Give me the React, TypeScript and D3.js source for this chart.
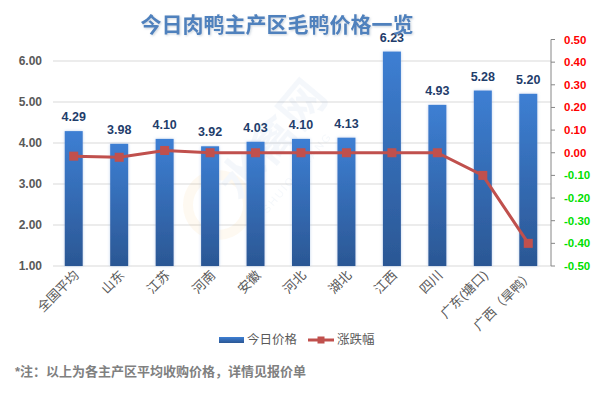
import React from "react";
import * as d3 from "d3";

const categories = ["全国平均", "山东", "江苏", "河南", "安徽", "河北", "湖北", "江西", "四川", "广东(塘口)", "广西（旱鸭）"];
const prices = [4.29, 3.98, 4.1, 3.92, 4.03, 4.1, 4.13, 6.23, 4.93, 5.28, 5.2];
const changes = [-0.015, -0.02, 0.01, 0, 0, 0, 0, 0, 0, -0.1, -0.4];
const leftTicks = [1, 2, 3, 4, 5, 6];
const rightTicks = [0.5, 0.4, 0.3, 0.2, 0.1, 0, -0.1, -0.2, -0.3, -0.4, -0.5];

const W = 592;
const H = 393;
const FONT = "'Liberation Sans', 'Noto Sans CJK SC', sans-serif";

export default function App() {
  const plotL = 51, plotR = 551, plotT = 39.5, plotB = 266;
  const x = d3.scaleBand<string>().domain(categories).range([plotL, plotR]).paddingInner(0).paddingOuter(0);
  const y = d3.scaleLinear().domain([1, 6]).range([266, 61]);
  const y2 = d3.scaleLinear().domain([-0.5, 0.5]).range([plotB, plotT]);
  const barW = 18;
  const cx = (c: string) => (x(c) as number) + x.bandwidth() / 2;
  const line = d3.line<number>().x((_, i) => cx(categories[i])).y((d) => y2(d));

  return (
    <svg width={W} height={H} style={{ position: "absolute", left: 0, top: 0, background: "#fff" }} fontFamily={FONT}>
      <defs>
        <linearGradient id="barGrad" x1="0" y1="0" x2="0" y2="1">
          <stop offset="0" stopColor="#3d7fd3" />
          <stop offset="1" stopColor="#2b5794" />
        </linearGradient>
        <filter id="glow" x="-50%" y="-10%" width="200%" height="120%">
          <feDropShadow dx="0" dy="0" stdDeviation="1.5" floodColor="#8fb0e0" floodOpacity="0.6" />
        </filter>
        <filter id="tshadow" x="-5%" y="-20%" width="110%" height="140%">
          <feDropShadow dx="1" dy="1" stdDeviation="0.8" floodColor="#9ab" floodOpacity="0.5" />
        </filter>
      </defs>

      {/* gridlines */}
      {leftTicks.map((t) => (
        <line key={"g" + t} x1={53} x2={plotR} y1={y(t)} y2={y(t)} stroke="#d9d9d9" strokeWidth={1} />
      ))}

      {/* watermark */}
      <g opacity={0.06}>
        <circle cx={218} cy={205} r={30} fill="none" stroke="#f0a020" strokeWidth={10} />
        <text x={0} y={0} transform="translate(285,150) rotate(-50)" fontSize={46} fontWeight="bold" fill="#5a8ac0" textAnchor="middle">水禽网</text>
        <text x={0} y={0} transform="translate(300,175) rotate(-50)" fontSize={11} fill="#5a8ac0" textAnchor="middle" letterSpacing={2}>SHUIQINWANG</text>
      </g>

      {/* left axis labels */}
      {leftTicks.map((t) => (
        <text key={"l" + t} x={42} y={y(t)} dy="0.35em" textAnchor="end" fontSize={12} fontWeight="bold" fill="#595959">
          {t.toFixed(2)}
        </text>
      ))}

      {/* bars */}
      {prices.map((v, i) => {
        const c = categories[i];
        return (
          <rect key={"b" + i} x={cx(c) - barW / 2} y={y(v)} width={barW} height={y(1) - y(v)} fill="url(#barGrad)" filter="url(#glow)" />
        );
      })}

      {/* value labels */}
      {prices.map((v, i) => (
        <text key={"v" + i} x={cx(categories[i])} y={y(v) - 10} textAnchor="middle" fontSize={12.5} fontWeight="bold" fill="#1f3d6b">
          {v.toFixed(2)}
        </text>
      ))}

      {/* right axis */}
      <line x1={plotR} x2={plotR} y1={plotT} y2={plotB} stroke="#868686" strokeWidth={1} />
      {rightTicks.map((t) => (
        <g key={"r" + t}>
          <line x1={plotR} x2={plotR + 4} y1={y2(t)} y2={y2(t)} stroke="#868686" />
          <text x={564} y={y2(t)} dy="0.35em" fontSize={11.5} fontWeight="bold" fill={t >= -0.001 ? "#ff0000" : "#00e000"}>
            {t.toFixed(2)}
          </text>
        </g>
      ))}

      {/* line */}
      <path d={line(changes) || ""} fill="none" stroke="#c0504d" strokeWidth={3} />
      {changes.map((v, i) => (
        <rect key={"m" + i} x={cx(categories[i]) - 4.5} y={y2(v) - 4.5} width={9} height={9} fill="#c0504d" />
      ))}

      {/* x labels */}
      {categories.map((c) => (
        <text key={"x" + c} transform={`translate(${cx(c) + 6},${276}) rotate(-45)`} textAnchor="end" fontSize={13} fill="#595959">
          {c}
        </text>
      ))}

      {/* title */}
      <text x={277} y={32} textAnchor="middle" fontSize={21} fontWeight="bold" fill="#4f81bd" filter="url(#tshadow)">
        今日肉鸭主产区毛鸭价格一览
      </text>

      {/* legend */}
      <rect x={219} y={337} width={25} height={6} fill="url(#barGrad)" />
      <text x={247} y={340} dy="0.35em" fontSize={12.5} fill="#595959">今日价格</text>
      <line x1={308} x2={334} y1={340} y2={340} stroke="#c0504d" strokeWidth={3} />
      <rect x={317.5} y={336.5} width={7} height={7} fill="#c0504d" />
      <text x={337} y={340} dy="0.35em" fontSize={12.5} fill="#595959">涨跌幅</text>

      {/* footnote */}
      <text x={15} y={376} fontSize={13} fontWeight="bold" fill="#808080">*注：以上为各主产区平均收购价格，详情见报价单</text>
    </svg>
  );
}
